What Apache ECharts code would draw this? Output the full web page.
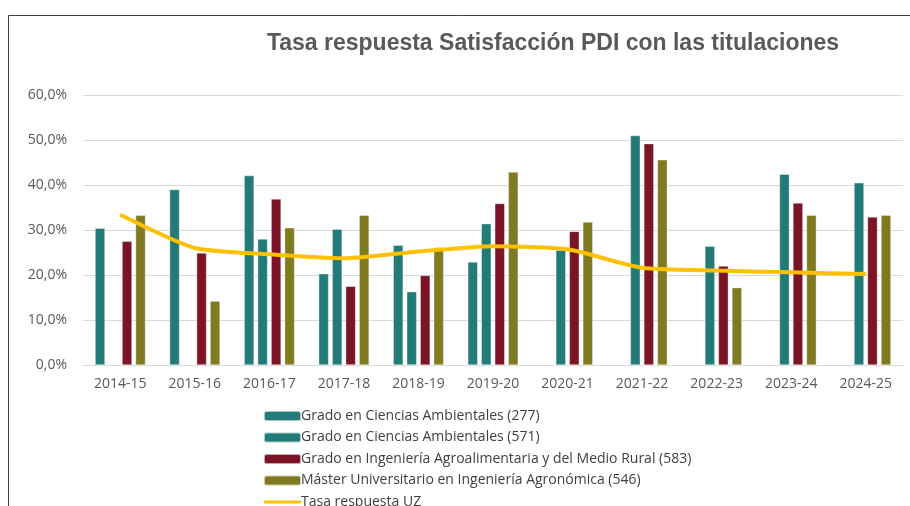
<!DOCTYPE html>
<html>
<head>
<meta charset="utf-8">
<script src="https://cdn.jsdelivr.net/npm/echarts@6/dist/echarts.min.js"></script>
<style>
  html, body { margin: 0; padding: 0; background: #fff; }
  #chart { width: 910px; height: 506px; }
</style>
</head>
<body>
<div id="chart"></div>
<script>
var cursos = ['2014-15', '2015-16', '2016-17', '2017-18', '2018-19', '2019-20', '2020-21', '2021-22', '2022-23', '2023-24', '2024-25'];
var ambientales277 = [30.4, 39.0, 42.1, 20.3, 26.6, 22.9, null, null, null, null, null];
var ambientales571 = [null, null, 28.0, 30.2, 16.3, 31.4, 25.5, 51.0, 26.4, 42.4, 40.5];
var agroalimentaria583 = [27.5, 24.9, 36.9, 17.5, 19.9, 35.9, 29.7, 49.2, 22.0, 36.0, 32.9];
var agronomica546 = [33.3, 14.2, 30.5, 33.3, 26.1, 42.9, 31.8, 45.6, 17.2, 33.3, 33.3];
var tasaUZ = [33.4, 26.0, 24.6, 23.7, 25.2, 26.4, 25.7, 21.6, 21.0, 20.6, 20.2];

var myChart = echarts.init(document.getElementById('chart'));

function barra(nombre, datos, color) {
    return {
        name: nombre,
        type: 'bar',
        barWidth: 10,
        barGap: '35%',
        data: datos,
        itemStyle: { color: color, borderColor: 'rgba(255,255,255,0.6)', borderWidth: 0.6 }
    };
}

var option = {
    animation: false,
    textStyle: { fontFamily: 'Open Sans' },
    title: {
        text: 'Tasa respuesta Satisfacción PDI con las titulaciones',
        left: 548,
        top: 27,
        textAlign: 'center',
        textStyle: { fontFamily: 'Liberation Sans', fontSize: 23, fontWeight: 'bold', color: '#595959' }
    },
    graphic: [{
        type: 'rect',
        shape: { x: 8.5, y: 15.5, width: 1000, height: 1000 },
        style: { fill: 'none', stroke: '#404040', lineWidth: 1 },
        silent: true
    }],
    legend: {
        orient: 'vertical',
        left: 258,
        top: 404,
        height: 140,
        itemWidth: 37,
        itemHeight: 10,
        itemGap: 7.5,
        textStyle: { fontSize: 14, color: '#404040', padding: [0, 0, 0, -5] },
        data: ['Grado en Ciencias Ambientales (277)', 'Grado en Ciencias Ambientales (571)',
               'Grado en Ingeniería Agroalimentaria y del Medio Rural (583)',
               'Máster Universitario en Ingeniería Agronómica (546)',
               { name: 'Tasa respuesta UZ', icon: 'path://M0,0M37,10M0,3.5L37,3.5L37,6.5L0,6.5Z' }]
    },
    grid: { left: 83, right: 7, top: 95, bottom: 141, containLabel: false },
    xAxis: {
        type: 'category',
        data: cursos,
        axisTick: { show: false },
        axisLine: { lineStyle: { color: '#d9d9d9', width: 1 } },
        axisLabel: { fontSize: 14, color: '#595959', margin: 12 }
    },
    yAxis: {
        type: 'value',
        min: 0,
        max: 60,
        interval: 10,
        axisLabel: {
            fontSize: 14,
            color: '#595959',
            margin: 16,
            formatter: function (v) { return v.toFixed(1).replace('.', ',') + '%'; }
        },
        splitLine: { lineStyle: { color: '#d9d9d9', width: 1 } }
    },
    series: [
        barra('Grado en Ciencias Ambientales (277)', ambientales277, '#237b78'),
        barra('Grado en Ciencias Ambientales (571)', ambientales571, '#237b78'),
        barra('Grado en Ingeniería Agroalimentaria y del Medio Rural (583)', agroalimentaria583, '#7a1426'),
        barra('Máster Universitario en Ingeniería Agronómica (546)', agronomica546, '#807a22'),
        {
            name: 'Tasa respuesta UZ',
            type: 'line',
            data: tasaUZ,
            smooth: 0.2,
            symbol: 'none',
            lineStyle: { color: '#ffc000', width: 4 },
            itemStyle: { color: '#ffc000' },
            z: 5
        }
    ]
};
myChart.setOption(option);
</script>
</body>
</html>
